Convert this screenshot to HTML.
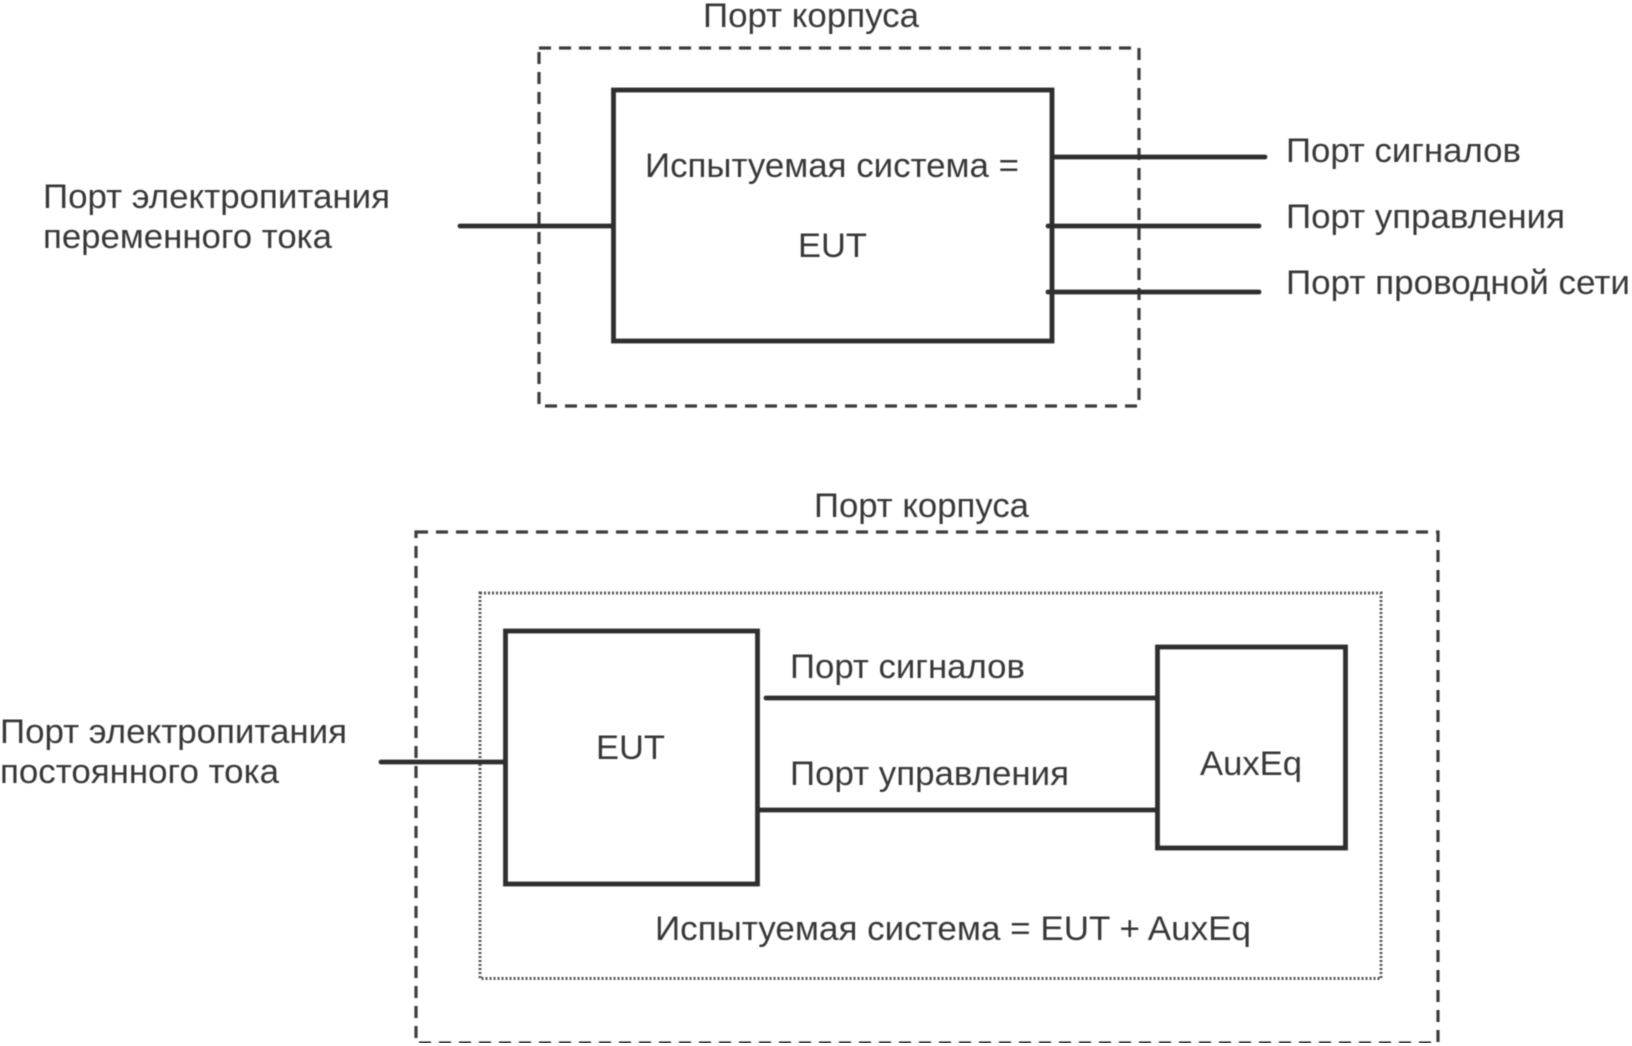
<!DOCTYPE html>
<html lang="ru">
<head>
<meta charset="utf-8">
<title>EUT</title>
<style>
html,body{margin:0;padding:0;background:#fff;width:1632px;height:1046px;overflow:hidden}
svg{display:block;position:absolute;left:0;top:0}
text{font-family:"Liberation Sans",Arial,sans-serif;font-size:34px;fill:#383838}
</style>
</head>
<body>
<svg width="1632" height="1046" viewBox="0 0 1632 1046" xmlns="http://www.w3.org/2000/svg">
<rect width="1632" height="1046" fill="#fff"/>
<g filter="url(#b)">
<defs><filter id="b" x="0" y="0" width="100%" height="100%"><feGaussianBlur stdDeviation="0.6"/></filter></defs>
<g fill="none" stroke="#3c3c3c" stroke-width="3.200" stroke-dasharray="12 8">
<rect x="539" y="48" width="600" height="358"/>
<rect x="416" y="532" width="1022" height="511"/>
</g>
<rect x="480" y="593" width="901" height="385.500" fill="none" stroke="#555" stroke-width="3" stroke-dasharray="2 2"/>
<g fill="none" stroke="#2e2e2e" stroke-width="4.800">
<rect x="613.500" y="90" width="438.500" height="251"/>
<rect x="505.500" y="631" width="252" height="253"/>
<rect x="1157.500" y="647" width="188" height="201"/>
</g>
<g stroke="#2e2e2e" stroke-width="4.800" stroke-linecap="round">
<line x1="460" y1="226" x2="613" y2="226"/>
<line x1="1053" y1="157" x2="1265" y2="157"/>
<line x1="1048" y1="226" x2="1259" y2="226"/>
<line x1="1048" y1="292" x2="1259" y2="292"/>
<line x1="381" y1="762" x2="505" y2="762"/>
<line x1="766" y1="698" x2="1157" y2="698"/>
<line x1="758" y1="810" x2="1157" y2="810"/>
</g>
<text x="703" y="27" textLength="216" lengthAdjust="spacingAndGlyphs">Порт корпуса</text>
<text x="645" y="177" textLength="374" lengthAdjust="spacingAndGlyphs">Испытуемая система =</text>
<text x="798" y="257" textLength="69" lengthAdjust="spacingAndGlyphs">EUT</text>
<text x="43" y="208" textLength="347" lengthAdjust="spacingAndGlyphs">Порт электропитания</text>
<text x="43" y="248" textLength="289" lengthAdjust="spacingAndGlyphs">переменного тока</text>
<text x="1286" y="162" textLength="235" lengthAdjust="spacingAndGlyphs">Порт сигналов</text>
<text x="1286" y="228" textLength="279" lengthAdjust="spacingAndGlyphs">Порт управления</text>
<text x="1286" y="294" textLength="344" lengthAdjust="spacingAndGlyphs">Порт проводной сети</text>
<text x="814" y="517" textLength="215" lengthAdjust="spacingAndGlyphs">Порт корпуса</text>
<text x="0" y="743" textLength="347" lengthAdjust="spacingAndGlyphs">Порт электропитания</text>
<text x="0" y="783" textLength="279" lengthAdjust="spacingAndGlyphs">постоянного тока</text>
<text x="596" y="759" textLength="69" lengthAdjust="spacingAndGlyphs">EUT</text>
<text x="790" y="678" textLength="235" lengthAdjust="spacingAndGlyphs">Порт сигналов</text>
<text x="790" y="785" textLength="279" lengthAdjust="spacingAndGlyphs">Порт управления</text>
<text x="1200" y="775" textLength="102" lengthAdjust="spacingAndGlyphs">AuxEq</text>
<text x="655" y="940" textLength="596" lengthAdjust="spacingAndGlyphs">Испытуемая система = EUT + AuxEq</text>
</g>
</svg>
</body>
</html>
